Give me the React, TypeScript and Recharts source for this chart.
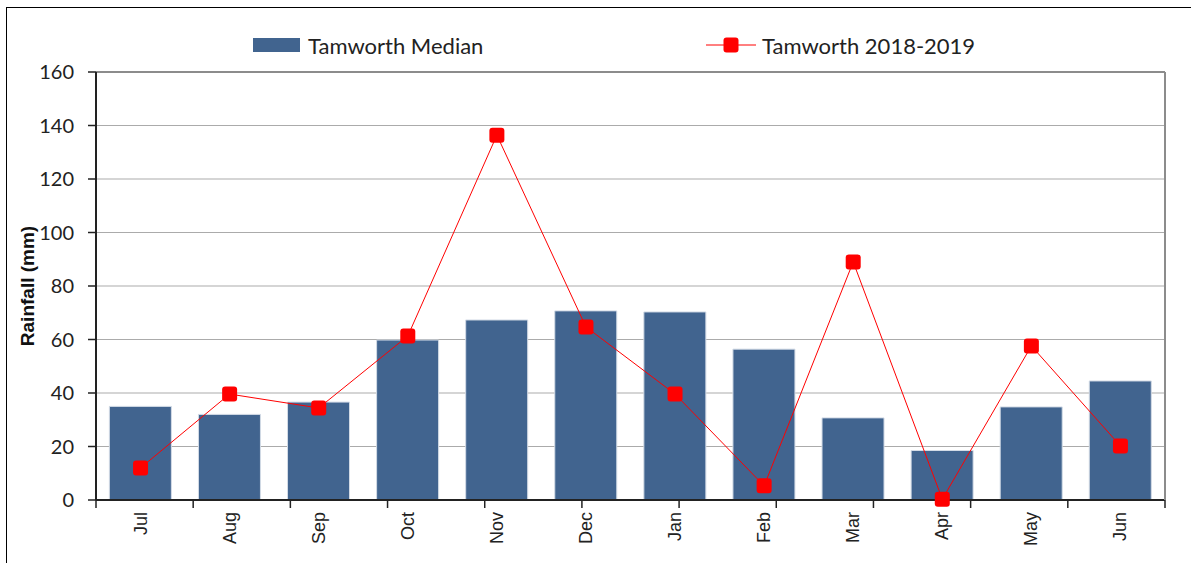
import React from 'react';
import {
  ComposedChart, Bar, Line, XAxis, YAxis, CartesianGrid, Legend, ReferenceLine,
} from 'recharts';

// monthly rainfall, Jul 2018 - Jun 2019
const months = ['Jul', 'Aug', 'Sep', 'Oct', 'Nov', 'Dec', 'Jan', 'Feb', 'Mar', 'Apr', 'May', 'Jun'];
const medianRain = [35, 32, 36.6, 59.8, 67.3, 70.7, 70.3, 56.4, 30.7, 18.5, 34.8, 44.5];
const seasonRain = [12, 39.6, 34.4, 61.3, 136.4, 64.7, 39.6, 5.3, 89, 0.3, 57.6, 20.2];
const yTicks = [0, 20, 40, 60, 80, 100, 120, 140, 160];
const boundaryTicks = [0, 1, 2, 3, 4, 5, 6, 7, 8, 9, 10, 11, 12];

const data = months.map((m, i) => ({ month: m, median: medianRain[i], season: seasonRain[i] }));

const BAR_COLOR = '#41648f';
const LINE_COLOR = '#ff0000';

const SquareDot = (props: any) => {
  const { cx, cy, index } = props;
  if (cx == null || cy == null) return null;
  return <rect key={`dot-${index}`} x={cx - 7.5} y={cy - 7.5} width={15} height={15} rx={3} fill={LINE_COLOR} />;
};

const NoTick = () => <g />;

const MonthTick = (props: any) => {
  const { x, y, payload } = props;
  const ty = y + 3;
  return (
    <text
      x={x}
      y={ty}
      transform={`rotate(-90, ${x}, ${ty})`}
      textAnchor="end"
      dominantBaseline="central"
      fontFamily="'Liberation Sans', Arial, sans-serif"
      fontSize={18}
      fill="#222"
    >
      {payload.value}
    </text>
  );
};

const renderLegend = () => (
  <div style={{ position: 'relative', height: 26, fontFamily: 'Lato, sans-serif', fontSize: 22, color: '#222' }}>
    <div style={{ position: 'absolute', left: 253, top: 0, display: 'flex', alignItems: 'center', height: 26 }}>
      <span style={{ display: 'inline-block', width: 47, height: 14, background: BAR_COLOR, marginRight: 8 }} />
      <span>Tamworth Median</span>
    </div>
    <div style={{ position: 'absolute', left: 706, top: 0, display: 'flex', alignItems: 'center', height: 26 }}>
      <svg width={50} height={16} style={{ marginRight: 6 }}>
        <line x1={0} y1={8} x2={50} y2={8} stroke={LINE_COLOR} strokeWidth={1} />
        <rect x={17.5} y={0.5} width={15} height={15} rx={3} fill={LINE_COLOR} />
      </svg>
      <span>Tamworth 2018-2019</span>
    </div>
  </div>
);

const YLabel = (props: any) => {
  const { viewBox } = props;
  const cy = viewBox.y + viewBox.height / 2;
  return (
    <text
      x={27}
      y={cy}
      transform={`rotate(-90, 27, ${cy})`}
      textAnchor="middle"
      dominantBaseline="central"
      fontFamily="'Liberation Sans', Arial, sans-serif"
      fontWeight="bold"
      fontSize={19}
      fill="#111"
    >
      Rainfall (mm)
    </text>
  );
};

export default function App() {
  return (
    <div style={{ position: 'absolute', left: 0, top: 0, width: 1191, height: 563, background: '#fff' }}>
      <div
        style={{
          position: 'absolute', left: 6, top: 7, width: 1200, height: 600,
          borderLeft: '1.5px solid #000', borderTop: '1.5px solid #000',
        }}
      />
      <ComposedChart
        width={1191}
        height={563}
        data={data}
        margin={{ top: 72, right: 25, left: 0, bottom: 0 }}
        barCategoryGap="15%"
      >
        <CartesianGrid horizontal vertical={false} stroke="#ababab" strokeWidth={1} />
        {/* boundary tick marks between months, sits right on the plot edge */}
        <XAxis
          xAxisId={0}
          type="number"
          domain={[0, 12]}
          ticks={boundaryTicks}
          interval={0}
          height={1}
          tick={<NoTick />}
          tickSize={8}
          axisLine={{ stroke: '#222', strokeWidth: 2 }}
          tickLine={{ stroke: '#222', strokeWidth: 1.5 }}
        />
        <XAxis
          xAxisId="months"
          dataKey="month"
          height={62}
          axisLine={false}
          tickLine={false}
          interval={0}
          tick={<MonthTick />}
        />
        <YAxis
          width={96}
          domain={[0, 160]}
          ticks={yTicks}
          interval={0}
          tickSize={8}
          tickMargin={14}
          axisLine={{ stroke: '#222', strokeWidth: 2 }}
          tickLine={{ stroke: '#222', strokeWidth: 1.5 }}
          tick={{ fontFamily: 'Lato, sans-serif', fontSize: 20, fill: '#222' }}
          label={<YLabel />}
        />
        <YAxis
          yAxisId="frame"
          orientation="right"
          width={1}
          domain={[0, 160]}
          tick={<NoTick />}
          tickLine={false}
          axisLine={{ stroke: '#8c8c8c', strokeWidth: 2 }}
        />
        <ReferenceLine y={160} xAxisId="months" stroke="#8c8c8c" strokeWidth={2} />
        <Legend verticalAlign="middle" wrapperStyle={{ top: 32, left: 0, width: 1191 }} content={renderLegend} />
        <Bar xAxisId="months" dataKey="median" name="Tamworth Median" fill={BAR_COLOR} stroke="#d3dbe6" strokeWidth={1} isAnimationActive={false} />
        <Line
          xAxisId="months"
          dataKey="season"
          name="Tamworth 2018-2019"
          type="linear"
          stroke={LINE_COLOR}
          strokeWidth={1}
          dot={<SquareDot />}
          activeDot={false}
          isAnimationActive={false}
        />
      </ComposedChart>
    </div>
  );
}
